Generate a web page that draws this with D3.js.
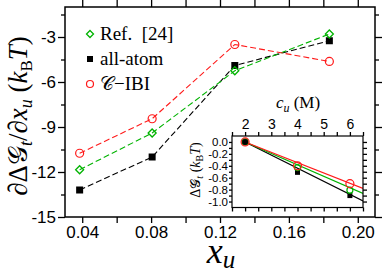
<!DOCTYPE html>
<html>
<head>
<meta charset="utf-8">
<script src="https://cdnjs.cloudflare.com/ajax/libs/d3/7.8.5/d3.min.js"></script>
<style>
  body { margin: 0; background: #fff; }
</style>
</head>
<body>
<div id="chart"></div>
<script>
// main panel data
var xu = [0.0385, 0.0806, 0.1286, 0.1835];
var refVals = [-11.85, -9.4, -5.25, -2.8];
var atomVals = [-13.2, -11.0, -4.9, -3.25];
var ibiVals = [-10.75, -8.45, -3.5, -4.63];

// inset data
var cu = [2, 4, 6];
var refInset = [0, -0.43, -0.81];
var atomInset = [0, -0.51, -0.9];
var ibiInset = [0, -0.40, -0.70];
// slopes of the fitted lines in the inset (per M), starting at c=2
var fitSlopes = { ref: -0.192, atom: -0.22, ibi: -0.173 };

var xTicks = [0.04, 0.08, 0.12, 0.16, 0.20];
var xMinor = [0.06, 0.10, 0.14, 0.18];
var yTicks = [-15, -12, -9, -6, -3];
var yMinor = [-13.5, -10.5, -7.5, -4.5, -1.5];
var ciTicks = [2, 3, 4, 5, 6];
var ciMinor = [1.5, 2.5, 3.5, 4.5, 5.5, 6.5];
var giTicks = [0, -0.2, -0.4, -0.6, -0.8, -1.0];
var giMinor = [-0.1, -0.3, -0.5, -0.7, -0.9];

var red = "#ff1a1a", green = "#00b300", black = "#000";
var SANS = "'Liberation Sans', Arial, Helvetica, sans-serif";
var SERIF = "'Liberation Serif', 'Times New Roman', 'DejaVu Serif', serif";

var svg = d3.select("#chart").append("svg")
  .attr("width", 382)
  .attr("height", 272);

var x = d3.scaleLinear().domain([0.03, 0.21]).range([65, 375]);
var y = d3.scaleLinear().domain([-15, -1]).range([217, 7]);

function fmt(d) { return String(d); }

// axes
function drawAxis(axisFn, scale, vals, size, labels, transform, fsize, pad) {
  var a = axisFn(scale).tickValues(vals).tickSizeInner(size).tickSizeOuter(0).tickPadding(pad || 2);
  if (labels) a.tickFormat(labels); else a.tickFormat("");
  var g = svg.append("g").attr("transform", transform).call(a);
  g.select(".domain").remove();
  g.selectAll("line").attr("stroke", "#000").attr("stroke-width", 1.3);
  g.selectAll("text")
    .attr("fill", "#000")
    .style("font-family", SANS)
    .style("font-size", fsize + "px");
  return g;
}

drawAxis(d3.axisBottom, x, xTicks, 6, d3.format(".2f"), "translate(0,217)", 17, 3);
drawAxis(d3.axisBottom, x, xMinor, 6, null, "translate(0,217)");
drawAxis(d3.axisTop, x, xTicks.concat(xMinor), 7, null, "translate(0,7)");
drawAxis(d3.axisLeft, y, yTicks, 7, fmt, "translate(65,0)", 17);
drawAxis(d3.axisLeft, y, yMinor, 4, null, "translate(65,0)");
drawAxis(d3.axisRight, y, yTicks, 7, null, "translate(375,0)");
drawAxis(d3.axisRight, y, yMinor, 4, null, "translate(375,0)");

svg.append("rect")
  .attr("x", 65).attr("y", 7)
  .attr("width", 310).attr("height", 210)
  .attr("fill", "none").attr("stroke", "#000").attr("stroke-width", 1.5);

// dashed series
var series = [
  { vals: atomVals, color: black, mark: "square" },
  { vals: refVals, color: green, mark: "diamond" },
  { vals: ibiVals, color: red, mark: "circle" }
];

var line = d3.line().x(function(d) { return x(d[0]); }).y(function(d) { return y(d[1]); });

series.forEach(function(s) {
  var pts = xu.map(function(v, i) { return [v, s.vals[i]]; });
  svg.append("path")
    .attr("d", line(pts))
    .attr("fill", "none")
    .attr("stroke", s.color)
    .attr("stroke-width", 1.1)
    .attr("stroke-dasharray", "6,3");
});

function marker(g, type, cx, cy, color, size) {
  if (type == "square") {
    g.append("rect").attr("x", cx - size / 2).attr("y", cy - size / 2)
      .attr("width", size).attr("height", size).attr("fill", color);
  } else if (type == "diamond") {
    var r = size / 2;
    g.append("path")
      .attr("d", "M" + cx + "," + (cy - r) + "L" + (cx + r) + "," + cy + "L" + cx + "," + (cy + r) + "L" + (cx - r) + "," + cy + "Z")
      .attr("fill", "none").attr("stroke", color).attr("stroke-width", 1.3);
  } else {
    g.append("circle").attr("cx", cx).attr("cy", cy).attr("r", size / 2)
      .attr("fill", "none").attr("stroke", color).attr("stroke-width", 1.2);
  }
}

var marks = svg.append("g");
series.forEach(function(s) {
  xu.forEach(function(v, i) {
    marker(marks, s.mark, x(v), y(s.vals[i]), s.color, s.mark == "square" ? 7 : 8);
  });
});

// legend
var legend = [
  { label: "Ref.  [24]", color: green, mark: "diamond", yy: 34 },
  { label: "all-atom", color: black, mark: "square", yy: 59 },
  { label: "\u{1D49E}\u2212IBI", color: red, mark: "circle", yy: 84 }
];
legend.forEach(function(l) {
  marker(svg, l.mark, 90, l.yy, l.color, l.mark == "square" ? 6 : 7);
  svg.append("text")
    .attr("x", 100).attr("y", l.yy + 6)
    .style("font-family", SERIF)
    .style("font-size", "19px")
    .style("white-space", "pre")
    .text(l.label);
});

// axis titles
var xt = svg.append("text")
  .attr("x", 221).attr("y", 263)
  .attr("text-anchor", "middle")
  .style("font-family", SERIF)
  .style("font-size", "36px");
xt.append("tspan").style("font-style", "italic").text("x");
xt.append("tspan").style("font-style", "italic").style("font-size", "25px").attr("dy", 5).text("u");

var yt = svg.append("text")
  .attr("transform", "translate(27,116) rotate(-90)")
  .attr("text-anchor", "middle")
  .style("font-family", SERIF)
  .style("font-size", "27px");
yt.append("tspan").text("\u2202\u0394\u{1D4A2}");
yt.append("tspan").style("font-style", "italic").style("font-size", "18px").attr("dy", 5).text("t");
yt.append("tspan").attr("dy", -5).text("/\u2202");
yt.append("tspan").style("font-style", "italic").text("x");
yt.append("tspan").style("font-style", "italic").style("font-size", "18px").attr("dy", 5).text("u");
yt.append("tspan").attr("dy", -5).text(" (");
yt.append("tspan").style("font-style", "italic").text("k");
yt.append("tspan").style("font-size", "17px").attr("dy", 5).text("B");
yt.append("tspan").style("font-style", "italic").attr("dy", -5).text("T");
yt.append("tspan").text(")");

// inset
var xi = d3.scaleLinear().domain([1.5, 6.5]).range([232, 363]);
var yi = d3.scaleLinear().domain([-1.1, 0.1]).range([207.5, 136]);

svg.append("rect")
  .attr("x", 232).attr("y", 136)
  .attr("width", 131).attr("height", 71.5)
  .attr("fill", "#fff");

drawAxis(d3.axisTop, xi, ciTicks, 4, fmt, "translate(0,136)", 14, 3);
drawAxis(d3.axisTop, xi, ciMinor, 4, null, "translate(0,136)");
drawAxis(d3.axisBottom, xi, ciTicks.concat(ciMinor), 4, null, "translate(0,207.5)");
drawAxis(d3.axisLeft, yi, giTicks, 3, function(d) { return d.toFixed(1); }, "translate(232,0)", 11.5, 1);
drawAxis(d3.axisLeft, yi, giMinor, 3, null, "translate(232,0)");
drawAxis(d3.axisRight, yi, giTicks.concat(giMinor), 4, null, "translate(363,0)");

var insetClip = svg.append("clipPath").attr("id", "ic")
  .append("rect").attr("x", 232).attr("y", 136).attr("width", 131).attr("height", 71.5);

var fits = [
  { slope: fitSlopes.atom, color: black },
  { slope: fitSlopes.ref, color: green },
  { slope: fitSlopes.ibi, color: red }
];
fits.forEach(function(f) {
  svg.append("line")
    .attr("clip-path", "url(#ic)")
    .attr("x1", xi(2)).attr("y1", yi(0))
    .attr("x2", xi(6.5)).attr("y2", yi(f.slope * 4.5))
    .attr("stroke", f.color).attr("stroke-width", 1.2);
});

var insetSeries = [
  { vals: atomInset, color: black, mark: "square", size: 5 },
  { vals: refInset, color: green, mark: "circle", size: 6 },
  { vals: ibiInset, color: red, mark: "circle", size: 8 }
];
insetSeries.forEach(function(s) {
  cu.forEach(function(c, i) {
    marker(svg, s.mark, xi(c), yi(s.vals[i]), s.color, s.size);
  });
});
// the overlapping point at c = 2 reads as a filled dot
svg.append("circle").attr("cx", xi(2)).attr("cy", yi(0)).attr("r", 3).attr("fill", black);

svg.append("rect")
  .attr("x", 232).attr("y", 136)
  .attr("width", 131).attr("height", 71.5)
  .attr("fill", "none").attr("stroke", "#000").attr("stroke-width", 1.2);

var ct = svg.append("text")
  .attr("x", 298).attr("y", 108)
  .attr("text-anchor", "middle")
  .style("font-family", SERIF)
  .style("font-size", "17px");
ct.append("tspan").style("font-style", "italic").text("c");
ct.append("tspan").style("font-style", "italic").style("font-size", "12px").attr("dy", 4).text("u");
ct.append("tspan").attr("dy", -4).text("\u00a0(M)");

var gt = svg.append("text")
  .attr("transform", "translate(200,170) rotate(-90)")
  .attr("text-anchor", "middle")
  .style("font-family", SERIF)
  .style("font-size", "14px");
gt.append("tspan").text("\u0394\u{1D4A2}");
gt.append("tspan").style("font-style", "italic").style("font-size", "10px").attr("dy", 3).text("t");
gt.append("tspan").attr("dy", -3).text(" (");
gt.append("tspan").style("font-style", "italic").text("k");
gt.append("tspan").style("font-size", "10px").attr("dy", 3).text("B");
gt.append("tspan").style("font-style", "italic").attr("dy", -3).text("T");
gt.append("tspan").text(")");
</script>
</body>
</html>
